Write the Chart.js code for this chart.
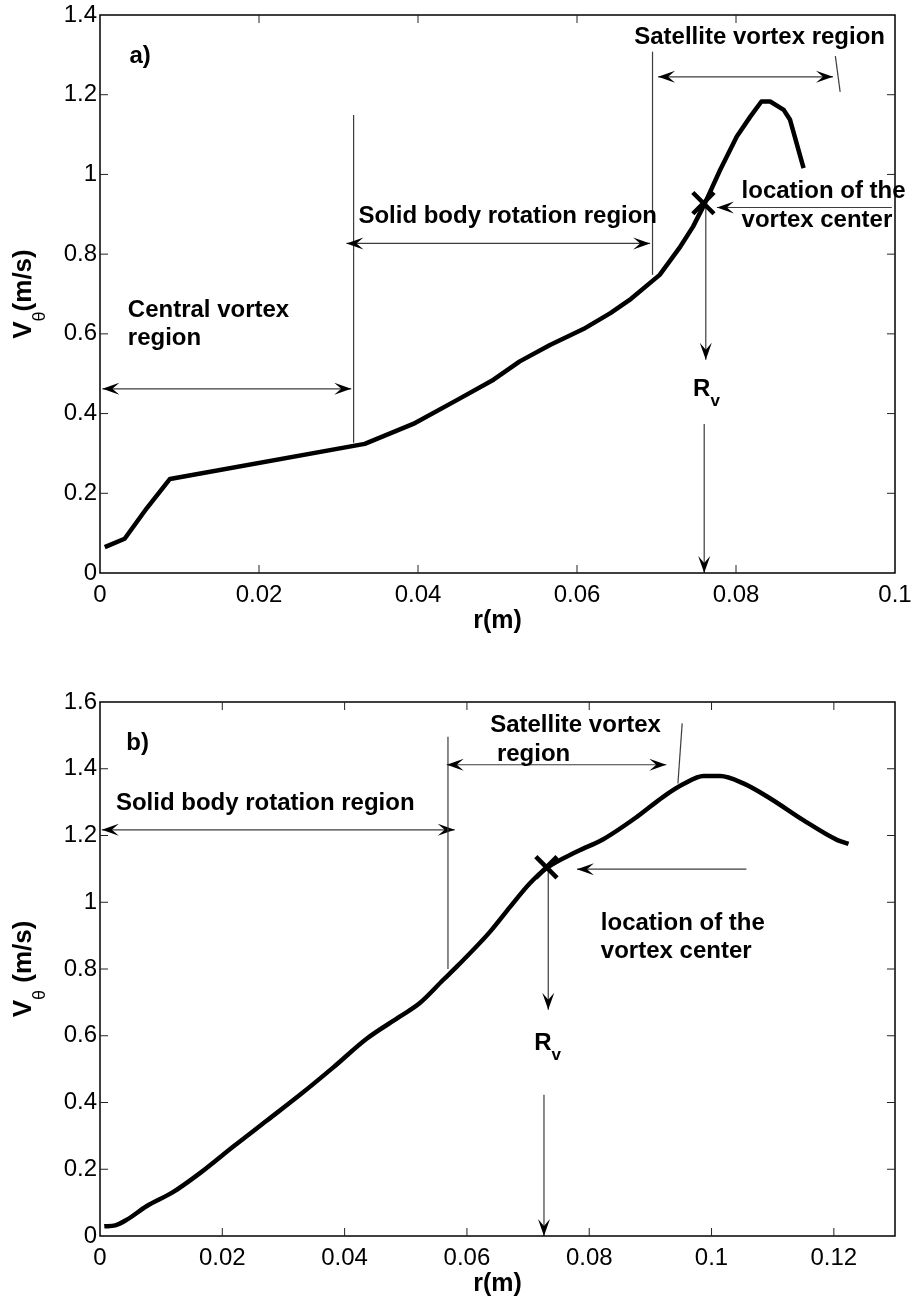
<!DOCTYPE html>
<html>
<head>
<meta charset="utf-8">
<script src="https://cdn.jsdelivr.net/npm/chart.js@4.4.0/dist/chart.umd.min.js"></script>
<style>
  body { margin: 0; background: #fff; }
  .panel { position: absolute; left: 0; width: 914px; }
  canvas { display: block; }
</style>
</head>
<body>
<div class="panel" style="top:0"><canvas id="chartA" width="914" height="650"></canvas></div>
<div class="panel" style="top:650px"><canvas id="chartB" width="914" height="651"></canvas></div>
<script>
// Tangential velocity profiles V_theta(r), two panels, MATLAB look:
// boxed axes, inward ticks on all four sides, hand-placed region notes.

const FONT = '"Liberation Sans", Arial, Helvetica, sans-serif';

// ---- panel a) ----
const rA = [0.0006, 0.0031, 0.0059, 0.0088, 0.0333, 0.0394, 0.0450, 0.0495, 0.0528, 0.0566,
  0.0608, 0.0642, 0.0668, 0.0704, 0.0730, 0.0746, 0.0761, 0.0780, 0.0801, 0.0818,
  0.0832, 0.0843, 0.0860, 0.0868, 0.0885];
const vA = [0.065, 0.086, 0.163, 0.236, 0.324, 0.374, 0.435, 0.485, 0.531, 0.572,
  0.612, 0.652, 0.688, 0.748, 0.819, 0.869, 0.928, 1.011, 1.095, 1.145,
  1.183, 1.183, 1.162, 1.137, 1.016];
const centerA = [0.0759, 0.928];
const xTicksA = [0, 0.02, 0.04, 0.06, 0.08, 0.1];
const yTicksA = [0, 0.2, 0.4, 0.6, 0.8, 1, 1.2, 1.4];

const notesA = [
  { text: 'a)', r: 0.0037, v: 1.279 },
  { text: 'Central vortex', r: 0.0035, v: 0.643 },
  { text: 'region', r: 0.0035, v: 0.573 },
  { text: 'Solid body rotation region', r: 0.0325, v: 0.878 },
  { text: 'Satellite vortex region', r: 0.0672, v: 1.327 },
  { text: 'location of the', r: 0.0807, v: 0.940 },
  { text: 'vortex center', r: 0.0807, v: 0.869 },
  { text: 'R', sub: 'v', r: 0.0746, v: 0.443 }
];
const arrowsA = [
  { from: [0.0319, 1.149], to: [0.0319, 0.327], head: 'none' },
  { from: [0.0003, 0.462], to: [0.0316, 0.462], head: 'both' },
  { from: [0.0310, 0.827], to: [0.0692, 0.827], head: 'both' },
  { from: [0.0695, 1.308], to: [0.0695, 0.748], head: 'none' },
  { from: [0.0702, 1.245], to: [0.0922, 1.245], head: 'both' },
  { from: [0.0925, 1.297], to: [0.0931, 1.207], head: 'none' },
  { from: [0.0996, 0.917], to: [0.0776, 0.917], head: 'end' },
  { from: [0.0762, 0.920], to: [0.0762, 0.535], head: 'end' },
  { from: [0.0760, 0.374], to: [0.0760, 0.0], head: 'end' }
];

// ---- panel b) ----
const rB = [0.0007, 0.0025, 0.0044, 0.0076, 0.0120, 0.0164, 0.0218, 0.0273, 0.0327, 0.0382,
  0.0436, 0.0490, 0.0523, 0.0561, 0.0585, 0.0638, 0.0671, 0.0703, 0.0730, 0.0780,
  0.0823, 0.0878, 0.0921, 0.0954, 0.0987, 0.1014, 0.1052, 0.1096, 0.1150, 0.1205, 0.1224];
const vB = [0.029, 0.032, 0.049, 0.089, 0.132, 0.189, 0.268, 0.346, 0.423, 0.506,
  0.591, 0.657, 0.698, 0.767, 0.810, 0.912, 0.987, 1.057, 1.102, 1.152,
  1.189, 1.256, 1.316, 1.354, 1.378, 1.378, 1.356, 1.311, 1.246, 1.187, 1.175];
const centerB = [0.0730, 1.105];
const xTicksB = [0, 0.02, 0.04, 0.06, 0.08, 0.1, 0.12];
const yTicksB = [0, 0.2, 0.4, 0.6, 0.8, 1, 1.2, 1.4, 1.6];

const notesB = [
  { text: 'b)', r: 0.0043, v: 1.456 },
  { text: 'Solid body rotation region', r: 0.0026, v: 1.276 },
  { text: 'Satellite vortex', r: 0.0638, v: 1.509 },
  { text: 'region', r: 0.0649, v: 1.424 },
  { text: 'location of the', r: 0.0819, v: 0.917 },
  { text: 'vortex center', r: 0.0819, v: 0.832 },
  { text: 'R', sub: 'v', r: 0.0710, v: 0.556 }
];
const arrowsB = [
  { from: [0.0003, 1.217], to: [0.0580, 1.217], head: 'both' },
  { from: [0.0569, 1.496], to: [0.0569, 0.800], head: 'none' },
  { from: [0.0567, 1.412], to: [0.0926, 1.412], head: 'both' },
  { from: [0.0952, 1.536], to: [0.0945, 1.356], head: 'none' },
  { from: [0.1057, 1.099], to: [0.0780, 1.099], head: 'end' },
  { from: [0.0733, 1.100], to: [0.0733, 0.678], head: 'end' },
  { from: [0.0726, 0.423], to: [0.0726, 0.0], head: 'end' }
];

function fmt(v) {
  return String(+Number(v).toFixed(3));
}

// MATLAB-ish swept arrow head, tip at (x2, y2)
function arrowHead(ctx, x1, y1, x2, y2) {
  const a = Math.atan2(y2 - y1, x2 - x1);
  ctx.save();
  ctx.translate(x2, y2);
  ctx.rotate(a);
  ctx.beginPath();
  ctx.moveTo(0, 0);
  ctx.lineTo(-17, -6);
  ctx.lineTo(-10, 0);
  ctx.lineTo(-17, 6);
  ctx.closePath();
  ctx.fill();
  ctx.restore();
}

function makeSketch(notes, arrows, yTitleRest) {
  return {
    id: 'sketch',
    beforeDatasetsDraw(chart) {
      const { ctx, scales: { x, y } } = chart;
      ctx.save();
      ctx.strokeStyle = '#3c3c3c';
      ctx.fillStyle = '#000';
      ctx.lineWidth = 1.2;
      for (const a of arrows) {
        const x1 = x.getPixelForValue(a.from[0]), y1 = y.getPixelForValue(a.from[1]);
        const x2 = x.getPixelForValue(a.to[0]), y2 = y.getPixelForValue(a.to[1]);
        ctx.beginPath();
        ctx.moveTo(x1, y1);
        ctx.lineTo(x2, y2);
        ctx.stroke();
        if (a.head === 'end' || a.head === 'both') arrowHead(ctx, x1, y1, x2, y2);
        if (a.head === 'both') arrowHead(ctx, x2, y2, x1, y1);
      }
      ctx.restore();
    },
    afterDraw(chart) {
      const { ctx, chartArea: ca, scales: { x, y } } = chart;
      ctx.save();
      // box
      ctx.strokeStyle = '#000';
      ctx.lineWidth = 1.5;
      ctx.strokeRect(ca.left, ca.top, ca.right - ca.left, ca.bottom - ca.top);
      // inward ticks, mirrored on top and right
      ctx.lineWidth = 1;
      ctx.strokeStyle = '#222';
      ctx.beginPath();
      for (const t of x.ticks) {
        const p = x.getPixelForValue(t.value);
        if (p <= ca.left + 1 || p >= ca.right - 1) continue;
        ctx.moveTo(p, ca.bottom); ctx.lineTo(p, ca.bottom - 8);
        ctx.moveTo(p, ca.top); ctx.lineTo(p, ca.top + 8);
      }
      for (const t of y.ticks) {
        const p = y.getPixelForValue(t.value);
        if (p >= ca.bottom - 1 || p <= ca.top + 1) continue;
        ctx.moveTo(ca.left, p); ctx.lineTo(ca.left + 8, p);
        ctx.moveTo(ca.right, p); ctx.lineTo(ca.right - 8, p);
      }
      ctx.stroke();

      // region notes
      ctx.fillStyle = '#000';
      ctx.textBaseline = 'alphabetic';
      ctx.textAlign = 'left';
      for (const n of notes) {
        const px = x.getPixelForValue(n.r), py = y.getPixelForValue(n.v);
        ctx.font = 'bold 24px ' + FONT;
        ctx.fillText(n.text, px, py);
        if (n.sub) {
          const w = ctx.measureText(n.text).width;
          ctx.font = 'bold 17px ' + FONT;
          ctx.fillText(n.sub, px + w, py + 10);
        }
      }

      // x title
      ctx.font = 'bold 25px ' + FONT;
      ctx.textAlign = 'center';
      ctx.fillText('r(m)', (ca.left + ca.right) / 2, ca.bottom + 55);

      // y title with theta subscript, rotated
      ctx.translate(31, (ca.top + ca.bottom) / 2);
      ctx.rotate(-Math.PI / 2);
      ctx.textAlign = 'left';
      const mainFont = 'bold 26px ' + FONT, subFont = '18px ' + FONT;
      ctx.font = mainFont;
      const wV = ctx.measureText('V').width, wRest = ctx.measureText(yTitleRest).width;
      ctx.font = subFont;
      const wSub = ctx.measureText('\u03b8').width;
      let cx = -(wV + wSub + wRest) / 2;
      ctx.font = mainFont;
      ctx.fillText('V', cx, 0);
      cx += wV;
      ctx.font = subFont;
      ctx.fillText('\u03b8', cx, 14);
      cx += wSub;
      ctx.font = mainFont;
      ctx.fillText(yTitleRest, cx, 0);
      ctx.restore();
    }
  };
}

function makeChart(id, r, v, center, xTicks, yTicks, xMax, yMax, pad, xAxisH, notes, arrows, yTitleRest, smooth) {
  const tickFont = { family: FONT, size: 24 };
  return new Chart(document.getElementById(id), {
    type: 'scatter',
    data: {
      datasets: [
        {
          data: r.map((rv, i) => ({ x: rv, y: v[i] })),
          showLine: true,
          borderColor: '#000',
          borderWidth: 4.5,
          borderJoinStyle: 'round',
          cubicInterpolationMode: smooth ? 'monotone' : 'default',
          tension: 0,
          pointRadius: 0,
          pointHoverRadius: 0
        },
        {
          data: [{ x: center[0], y: center[1] }],
          pointStyle: 'crossRot',
          pointRadius: 15,
          pointHoverRadius: 15,
          borderColor: '#000',
          borderWidth: 4.5,
          backgroundColor: '#000'
        }
      ]
    },
    options: {
      responsive: false,
      animation: false,
      events: [],
      layout: { autoPadding: false, padding: { top: pad.top, right: pad.right, left: 0, bottom: 0 } },
      plugins: { legend: { display: false }, tooltip: { enabled: false } },
      scales: {
        x: {
          type: 'linear',
          min: 0,
          max: xMax,
          grid: { display: false, drawTicks: false },
          border: { display: false },
          afterBuildTicks: (s) => { s.ticks = xTicks.map((t) => ({ value: t })); },
          afterFit: (s) => { s.height = xAxisH; s.paddingLeft = 0; s.paddingRight = 0; },
          ticks: { color: '#000', font: tickFont, padding: 8, maxRotation: 0, callback: fmt }
        },
        y: {
          type: 'linear',
          min: 0,
          max: yMax,
          grid: { display: false, drawTicks: false },
          border: { display: false },
          afterBuildTicks: (s) => { s.ticks = yTicks.map((t) => ({ value: t })); },
          afterFit: (s) => { s.width = 100; s.paddingTop = 0; s.paddingBottom = 0; },
          ticks: { color: '#000', font: tickFont, padding: 3, callback: fmt }
        }
      }
    },
    plugins: [makeSketch(notes, arrows, yTitleRest)]
  });
}

makeChart('chartA', rA, vA, centerA, xTicksA, yTicksA, 0.1, 1.4,
  { top: 15, right: 19 }, 77, notesA, arrowsA, '(m/s)', false);
makeChart('chartB', rB, vB, centerB, xTicksB, yTicksB, 0.13, 1.6,
  { top: 52, right: 19 }, 65, notesB, arrowsB, ' (m/s)', true);
</script>
</body>
</html>
